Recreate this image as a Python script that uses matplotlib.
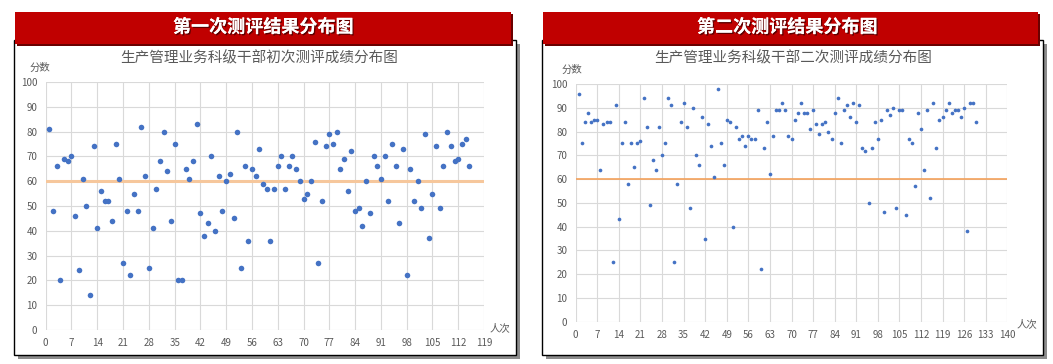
import matplotlib.pyplot as plt
import matplotlib.patheffects as pe
import numpy as np
from matplotlib.patches import Rectangle

plt.rcParams['font.family'] = ['Noto Sans CJK SC', 'DejaVu Sans']

W, H = 1053, 364

# scores
FIRST_SCORES = [81, 48, 66, 20, 69, 68, 70, 46, 24, 61,
                50, 14, 74, 41, 56, 52, 52, 44, 75, 61,
                27, 48, 22, 55, 48, 82, 62, 25, 41, 57,
                68, 80, 64, 44, 75, 20, 20, 65, 61, 68,
                83, 47, 38, 43, 70, 40, 62, 48, 60, 63,
                45, 80, 25, 66, 36, 65, 62, 73, 59, 57,
                36, 57, 66, 70, 57, 66, 70, 65, 60, 53,
                55, 60, 76, 27, 52, 74, 79, 75, 80, 65,
                69, 56, 72, 48, 49, 42, 60, 47, 70, 66,
                61, 70, 52, 75, 66, 43, 73, 22, 65, 52,
                60, 49, 79, 37, 55, 74, 49, 66, 80, 74,
                68, 69, 75, 77, 66]
SECOND_SCORES = [96, 75, 84, 88, 84, 85, 85, 64, 83, 84,
                 84, 25, 91, 43, 75, 84, 58, 75, 65, 75,
                 76, 94, 82, 49, 68, 64, 82, 70, 75, 94,
                 91, 25, 58, 84, 92, 82, 48, 90, 70, 66,
                 86, 35, 83, 74, 61, 98, 75, 66, 85, 84,
                 40, 82, 77, 78, 74, 78, 77, 77, 89, 22,
                 73, 84, 62, 78, 89, 89, 92, 89, 78, 77,
                 85, 88, 92, 88, 88, 81, 89, 83, 79, 83,
                 84, 80, 77, 88, 94, 75, 89, 91, 86, 92,
                 84, 91, 73, 72, 50, 73, 84, 77, 85, 46,
                 89, 87, 90, 48, 89, 89, 45, 77, 75, 57,
                 88, 81, 64, 89, 52, 92, 73, 85, 86, 89,
                 92, 88, 89, 89, 86, 90, 38, 92, 92, 84]
PASS_LINE = 60

HEADERS = ['第一次测评结果分布图', '第二次测评结果分布图']
TITLES = ['生产管理业务科级干部初次测评成绩分布图', '生产管理业务科级干部二次测评成绩分布图']
X_MAX = [119, 140]

BLUE = '#4472C4'
RED = '#C00000'
GRID = '#D9D9D9'
GRAY_TEXT = '#595959'


def fx(x):
    return x / W


def fy(y):
    return 1 - y / H


def add_rect(fig, x0, y0, x1, y1, **kw):
    r = Rectangle((fx(x0), fy(y1)), fx(x1) - fx(x0), fy(y0) - fy(y1),
                  transform=fig.transFigure, **kw)
    fig.add_artist(r)


def panel(fig, box, header, hdr_x, title, title_x):
    x0, y0, x1, y1 = box
    # shadow + white frame
    add_rect(fig, x0 + 4, y0 + 4, x1 + 4, y1 + 4, facecolor='#8c8c8c', edgecolor='none', zorder=-3)
    add_rect(fig, x0, y0, x1, y1, facecolor='white', edgecolor='black', lw=1, zorder=-2)
    # red header band
    add_rect(fig, x0 + 3, 14, x1 - 3, 46, facecolor='#6a0000', edgecolor='none', zorder=-1.5)
    add_rect(fig, x0 + 1, 12, x1 - 5, 44, facecolor=RED, edgecolor='none', zorder=-1)
    t = fig.text(fx(hdr_x), fy(27), header, color='white', fontsize=13, fontweight='bold',
                 ha='center', va='center')
    t.set_path_effects([pe.withSimplePatchShadow(offset=(1, -1), shadow_rgbFace='black', alpha=0.5),
                        pe.Normal()])
    fig.text(fx(title_x), fy(58), title, color=GRAY_TEXT, fontsize=10.5, ha='center', va='center')


def scatter_chart(ax, scores, xmax, dot, line_color, line_w):
    x = np.arange(1, len(scores) + 1)
    ax.set_facecolor('none')
    ax.scatter(x, scores, s=dot, color=BLUE, zorder=3, linewidths=0)
    ax.axhline(PASS_LINE, color=line_color, lw=line_w, zorder=2)
    ax.set_xlim(0, xmax)
    ax.set_ylim(0, 100)
    ax.set_xticks(np.arange(0, xmax + 1, 7))
    ax.set_yticks(np.arange(0, 101, 10))
    ax.grid(True, color=GRID, lw=0.8)
    ax.set_axisbelow(True)
    for s in ax.spines.values():
        s.set_visible(False)
    ax.tick_params(length=0, labelsize=7, colors=GRAY_TEXT, pad=6)


fig = plt.figure(figsize=(W / 100, H / 100), dpi=100)

panel(fig, (14, 40, 516, 355), HEADERS[0], 263, TITLES[0], 259)
panel(fig, (542, 40, 1043, 355), HEADERS[1], 787, TITLES[1], 793)

ax1 = fig.add_axes([fx(45.7), fy(330), fx(484) - fx(45.7), fy(82) - fy(330)])
scatter_chart(ax1, FIRST_SCORES, X_MAX[0], 16, '#F6C79C', 2.2)

ax2 = fig.add_axes([fx(575.7), fy(321.7), fx(1007.3) - fx(575.7), fy(84) - fy(321.7)])
scatter_chart(ax2, SECOND_SCORES, X_MAX[1], 7, '#F4A15A', 1.2)

fig.text(fx(40), fy(68), '分数', color=GRAY_TEXT, fontsize=7.5, ha='center', va='center')
fig.text(fx(500), fy(328), '人次', color=GRAY_TEXT, fontsize=7.5, ha='center', va='center')
fig.text(fx(572), fy(70), '分数', color=GRAY_TEXT, fontsize=7.5, ha='center', va='center')
fig.text(fx(1027), fy(324), '人次', color=GRAY_TEXT, fontsize=7.5, ha='center', va='center')

fig.savefig('out.png', dpi=100)
